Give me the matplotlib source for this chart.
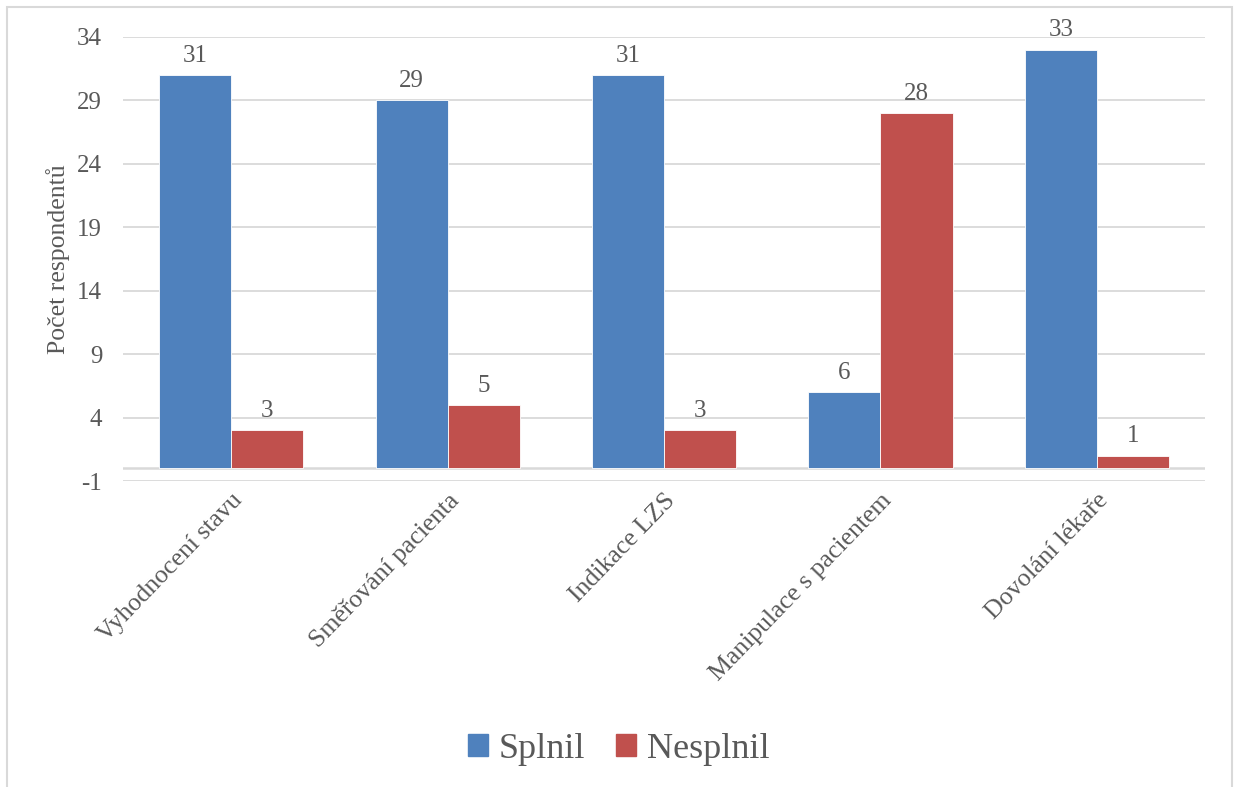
import matplotlib.pyplot as plt
import matplotlib.patches as mpatches
import numpy as np

# Survey results per task
categories = ["Vyhodnocení stavu", "Směřování pacienta", "Indikace LZS",
              "Manipulace s pacientem", "Dovolání lékaře"]
splnil = [31, 29, 31, 6, 33]
nesplnil = [3, 5, 3, 28, 1]
yticks = [-1, 4, 9, 14, 19, 24, 29, 34]

BLUE = "#4f81bd"
RED = "#c0504d"
TEXT = "#595959"
GRID = "#d9d9d9"

plt.rcParams['font.family'] = ['Liberation Serif', 'DejaVu Serif']
plt.rcParams['axes.unicode_minus'] = False

fig = plt.figure(figsize=(12.38, 7.87), dpi=100)
ax = fig.add_axes([0.0994, 0.3888, 0.874, 0.5642])

x = np.arange(len(categories))
w = 1 / 3
b1 = ax.bar(x - w / 2, splnil, w, color=BLUE, edgecolor="white", linewidth=0.6, zorder=3)
b2 = ax.bar(x + w / 2, nesplnil, w, color=RED, edgecolor="white", linewidth=0.6, zorder=3)

for bars in (b1, b2):
    for rect in bars:
        h = rect.get_height()
        ax.annotate(f"{h:g}", (rect.get_x() + rect.get_width() / 2, h),
                    xytext=(0, 6), textcoords="offset points",
                    ha="center", va="bottom", fontsize=18, color=TEXT)

ax.set_xlim(-0.5, len(categories) - 0.5)
ax.set_ylim(-1, 34)
ax.set_yticks(yticks)
ax.yaxis.grid(True, color=GRID, linewidth=1.3, zorder=0)
ax.axhline(0, color=GRID, linewidth=1.8, zorder=1)
for s in ax.spines.values():
    s.set_visible(False)
ax.tick_params(axis="both", length=0, labelsize=18, labelcolor=TEXT)
ax.tick_params(axis="y", pad=15)

ax.set_xticks(x)
ax.set_xticklabels(categories, rotation=46, ha="right", rotation_mode="anchor")
ax.tick_params(axis="x", labelsize=18.5, pad=6)
ax.set_ylabel("Počet respondentů", fontsize=18.5, color=TEXT, labelpad=5)

handles = [mpatches.Patch(color=BLUE, label="Splnil"),
           mpatches.Patch(color=RED, label="Nesplnil")]
fig.legend(handles=handles, loc="center", bbox_to_anchor=(0.5, 0.048), ncol=2,
           frameon=False, fontsize=26, labelcolor=TEXT, handlelength=0.55,
           handleheight=0.55, handletextpad=0.3, columnspacing=0.85)

# light frame around the chart area
fig.patches.append(mpatches.Rectangle((0.0057, -0.02), 0.9893, 1.011,
                                      transform=fig.transFigure, fill=False,
                                      edgecolor=GRID, linewidth=1.5))

fig.savefig("out.png", dpi=100)
